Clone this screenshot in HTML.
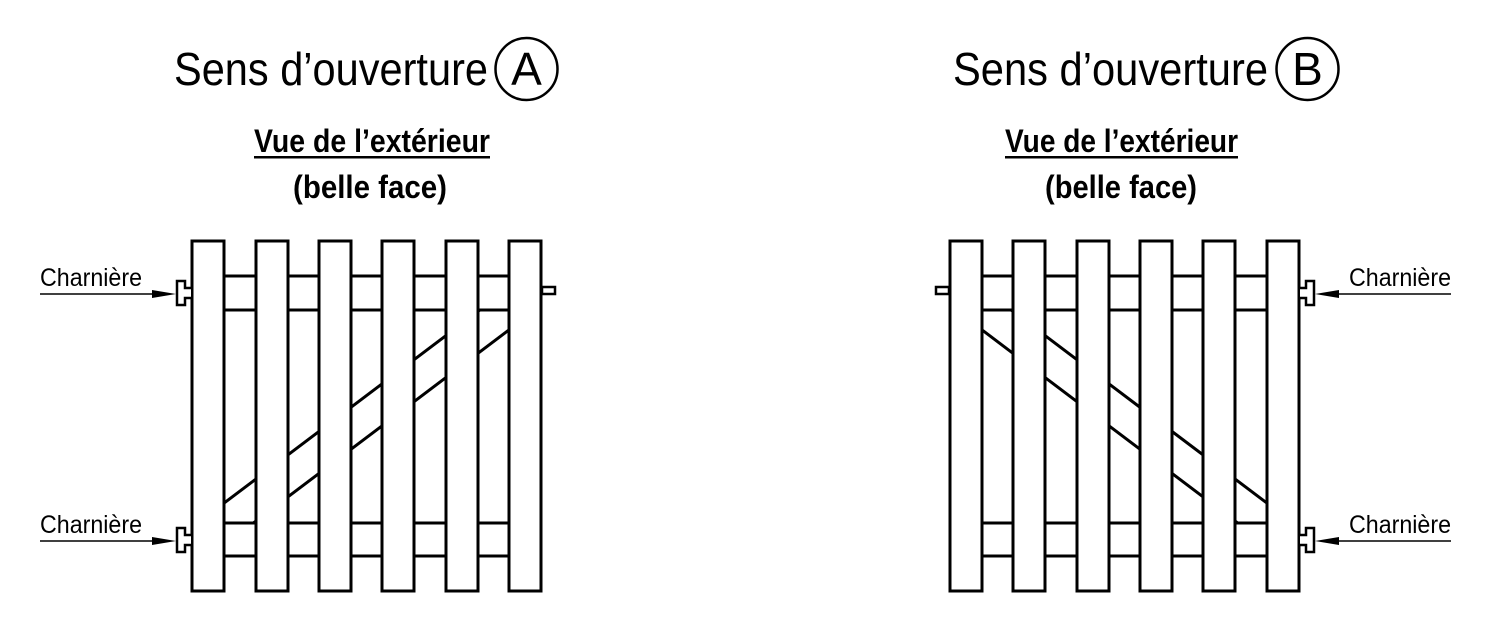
<!DOCTYPE html>
<html><head><meta charset="utf-8"><style>html,body{margin:0;padding:0;background:#fff}svg{display:block}</style></head>
<body>
<svg width="1500" height="629" viewBox="0 0 1500 629" xmlns="http://www.w3.org/2000/svg">
<defs>
<clipPath id="cl"><rect x="224" y="311" width="286" height="211"/></clipPath>
<g id="gate" stroke="#000" stroke-width="3" fill="#fff">
  <rect x="192" y="276" width="349" height="34"/>
  <rect x="192" y="523" width="349" height="33"/>
  <g clip-path="url(#cl)" stroke-width="3">
    <line x1="200" y1="521.3" x2="520" y2="279.7"/>
    <line x1="250" y1="525.5" x2="540" y2="306.5"/>
  </g>
  <rect x="192" y="241" width="32" height="350"/>
  <rect x="256" y="241" width="32" height="350"/>
  <rect x="319" y="241" width="32" height="350"/>
  <rect x="382" y="241" width="32" height="350"/>
  <rect x="446" y="241" width="32" height="350"/>
  <rect x="509" y="241" width="32" height="350"/>
  <path d="M191,288 L185,288 L185,281 L177,281 L177,305 L185,305 L185,298 L191,298" stroke-width="2.5"/>
  <path d="M191,535 L185,535 L185,528 L177,528 L177,552 L185,552 L185,545 L191,545" stroke-width="2.5"/>
  <rect x="542" y="287" width="13" height="7" stroke-width="2.5"/>
  <line x1="40" y1="294" x2="160" y2="294" stroke-width="1.5"/>
  <polygon points="176,294 152,290 152,298" fill="#000" stroke="none"/>
  <line x1="40" y1="541" x2="160" y2="541" stroke-width="1.5"/>
  <polygon points="176,541 152,537 152,545" fill="#000" stroke="none"/>
</g>
</defs>
<use href="#gate"/>
<use href="#gate" transform="matrix(-1,0,0,1,1491,0)"/>
<g font-family="Liberation Sans, sans-serif" fill="#000">
  <text x="174" y="85" font-size="46" textLength="314" lengthAdjust="spacingAndGlyphs">Sens  d’ouverture</text>
  <text x="953" y="85" font-size="46" textLength="315" lengthAdjust="spacingAndGlyphs">Sens  d’ouverture</text>
  <circle cx="526.5" cy="69" r="31" fill="none" stroke="#000" stroke-width="2.5"/>
  <text x="526.5" y="85" font-size="46" text-anchor="middle">A</text>
  <circle cx="1307.5" cy="69" r="31" fill="none" stroke="#000" stroke-width="2.5"/>
  <text x="1307.5" y="85" font-size="46" text-anchor="middle">B</text>
  <text x="254" y="152" font-size="32" font-weight="bold" textLength="236" lengthAdjust="spacingAndGlyphs">Vue  de  l’extérieur</text>
  <rect x="254" y="156" width="236" height="2.5"/>
  <text x="1005" y="152" font-size="32" font-weight="bold" textLength="233" lengthAdjust="spacingAndGlyphs">Vue  de  l’extérieur</text>
  <rect x="1005" y="156" width="233" height="2.5"/>
  <text x="293" y="198" font-size="32" font-weight="bold" textLength="154" lengthAdjust="spacingAndGlyphs">(belle  face)</text>
  <text x="1045" y="198" font-size="32" font-weight="bold" textLength="152" lengthAdjust="spacingAndGlyphs">(belle  face)</text>
  <text x="40" y="286" font-size="25" textLength="102" lengthAdjust="spacingAndGlyphs">Charnière</text>
  <text x="40" y="533" font-size="25" textLength="102" lengthAdjust="spacingAndGlyphs">Charnière</text>
  <text x="1349" y="286" font-size="25" textLength="102" lengthAdjust="spacingAndGlyphs">Charnière</text>
  <text x="1349" y="533" font-size="25" textLength="102" lengthAdjust="spacingAndGlyphs">Charnière</text>
</g>
</svg>
</body></html>
